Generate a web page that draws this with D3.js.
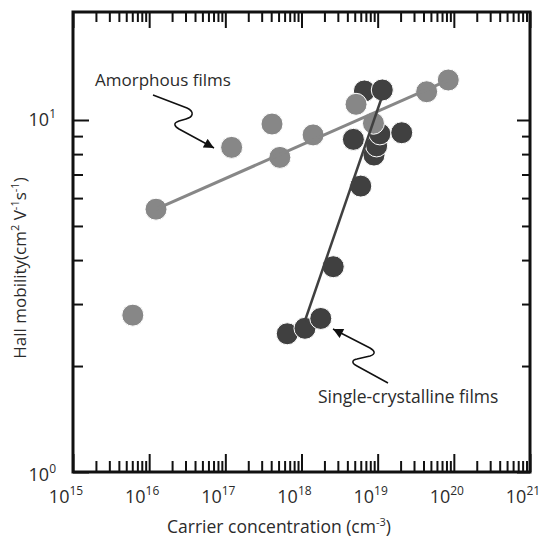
<!DOCTYPE html>
<html>
<head>
<meta charset="utf-8">
<script src="https://cdn.jsdelivr.net/npm/d3@7"></script>
<style>
	body { margin: 0; background: #fff; }
	svg { display: block; }
	text { font-family: "Open Sans", "Noto Sans", sans-serif; fill: #2b2b2b; }
</style>
</head>
<body>
<div id="chart"></div>
<script>
/***********************************************************************/
//Data
/***********************************************************************/
// carrier concentration (cm^-3), hall mobility (cm2 V-1 s-1)
const amorphousConc = [6.1e15, 1.23e16, 1.21e17, 4.1e17, 5.2e17, 1.42e18, 5.2e18, 8.8e18, 4.4e19, 8.45e19]
const amorphousMob  = [2.79, 5.58, 8.36, 9.74, 7.83, 9.07, 11.08, 9.79, 12.03, 12.99]

const crystalConc = [6.5e17, 1.11e18, 1.79e18, 2.61e18, 6.0e18, 8.95e18, 9.7e18, 1.07e19, 4.8e18, 2.07e19, 6.7e18, 1.15e19]
const crystalMob  = [2.47, 2.56, 2.73, 3.83, 6.49, 7.95, 8.44, 9.13, 8.81, 9.20, 12.09, 12.17]

// end points of the two fitted lines
const amorphousFit = [[1.23e16, 5.58], [8.45e19, 12.99]]
const crystalFit   = [[1.11e18, 2.69], [1.21e19, 12.09]]

const xDecades = [15, 16, 17, 18, 19, 20, 21]
const yDecades = [0, 1]

/***********************************************************************/
//Plot Area
/***********************************************************************/
const width = 541
const height = 541
const margin = { left : 73, right : 11, top : 12, bottom : 69 }

const plotW = width - margin.left - margin.right
const plotH = height - margin.top - margin.bottom

const svg = d3.select('#chart')
	.append('svg')
	.attr('width', width)
	.attr('height', height)

const g = svg.append('g')
	.attr('transform', 'translate(' + margin.left + ',' + margin.top + ')')

/***********************************************************************/
//Scale
/***********************************************************************/
const xScale = d3.scaleLog()
	.domain([1e15, 1e21])
	.range([0, plotW])

const yScale = d3.scaleLog()
	.domain([1, Math.pow(10, 1.3068)])
	.range([plotH, 0])

/***********************************************************************/
//Axes
/***********************************************************************/
const xMajor = xDecades.map(d => Math.pow(10, d))
const xMinor = []
xDecades.slice(0, -1).forEach(d => {
	for (let k = 2; k <= 9; k++) xMinor.push(k * Math.pow(10, d))
})
const yMajor = yDecades.map(d => Math.pow(10, d))
const yMinor = [2, 3, 4, 5, 6, 7, 8, 9]

const addAxis = (axis, transform) => {
	const a = g.append('g')
		.attr('transform', transform)
		.call(axis)
	a.select('.domain').remove()
	a.selectAll('.tick line').attr('stroke', '#111').attr('stroke-width', 2)
	a.selectAll('.tick text').remove()
}

addAxis(d3.axisBottom(xScale).tickValues(xMajor).tickSizeInner(-18).tickSizeOuter(0), 'translate(0,' + plotH + ')')
addAxis(d3.axisBottom(xScale).tickValues(xMinor).tickSizeInner(-11).tickSizeOuter(0), 'translate(0,' + plotH + ')')
addAxis(d3.axisTop(xScale).tickValues(xMajor).tickSizeInner(-16).tickSizeOuter(0), 'translate(0,0)')
addAxis(d3.axisTop(xScale).tickValues(xMinor).tickSizeInner(-10).tickSizeOuter(0), 'translate(0,0)')
addAxis(d3.axisLeft(yScale).tickValues(yMajor).tickSizeInner(-16).tickSizeOuter(0), 'translate(0,0)')
addAxis(d3.axisLeft(yScale).tickValues(yMinor).tickSizeInner(-10).tickSizeOuter(0), 'translate(0,0)')
addAxis(d3.axisRight(yScale).tickValues(yMajor).tickSizeInner(-13).tickSizeOuter(0), 'translate(' + plotW + ',0)')
addAxis(d3.axisRight(yScale).tickValues(yMinor).tickSizeInner(-8).tickSizeOuter(0), 'translate(' + plotW + ',0)')

// frame
g.append('rect')
	.attr('x', 0)
	.attr('y', 0)
	.attr('width', plotW)
	.attr('height', plotH)
	.attr('fill', 'none')
	.attr('stroke', '#111')
	.attr('stroke-width', 3)

// power-of-ten labels
const powLabel = (sel, exp) => {
	sel.append('tspan').text('10')
	sel.append('tspan')
		.attr('font-size', '12px')
		.attr('dy', '-8')
		.text(exp)
}

g.append('g').selectAll('text')
	.data(xDecades)
	.join('text')
	.attr('x', d => xScale(Math.pow(10, d)) - 7)
	.attr('y', plotH + 31)
	.attr('text-anchor', 'middle')
	.attr('font-size', '18px')
	.each(function(d) { powLabel(d3.select(this), d) })

g.append('g').selectAll('text')
	.data(yDecades)
	.join('text')
	.attr('x', -17)
	.attr('y', d => yScale(Math.pow(10, d)) + (d === 0 ? 9 : 6))
	.attr('text-anchor', 'end')
	.attr('font-size', '18px')
	.each(function(d) { powLabel(d3.select(this), d) })

// axis titles
const xTitle = svg.append('text')
	.attr('x', 279)
	.attr('y', 533)
	.attr('text-anchor', 'middle')
	.attr('font-size', '17.5px')
xTitle.append('tspan').text('Carrier concentration (cm')
xTitle.append('tspan').attr('font-size', '11px').attr('dy', -7).text('-3')
xTitle.append('tspan').attr('dy', 7).text(')')

const yTitle = svg.append('text')
	.attr('transform', 'translate(26,268) rotate(-90)')
	.attr('text-anchor', 'middle')
	.attr('font-size', '17px')
yTitle.append('tspan').text('Hall mobility(cm')
yTitle.append('tspan').attr('font-size', '11px').attr('dy', -7).text('2')
yTitle.append('tspan').attr('dy', 7).text(' V')
yTitle.append('tspan').attr('font-size', '11px').attr('dy', -7).text('-1')
yTitle.append('tspan').attr('dy', 7).text('s')
yTitle.append('tspan').attr('font-size', '11px').attr('dy', -7).text('-1')
yTitle.append('tspan').attr('dy', 7).text(')')

/***********************************************************************/
//Plotting
/***********************************************************************/
const grey = '#878787'
const dark = '#404040'
const r = 11

const crystal = crystalConc.map((c, i) => ({ c, m : crystalMob[i] }))
const amorphous = amorphousConc.map((c, i) => ({ c, m : amorphousMob[i] }))

g.append('g').selectAll('circle')
	.data(crystal)
	.join('circle')
	.attr('cx', d => xScale(d.c))
	.attr('cy', d => yScale(d.m))
	.attr('r', r)
	.attr('fill', dark)
	.attr('stroke', '#fff')
	.attr('stroke-width', 1)

g.append('g').selectAll('circle')
	.data(amorphous)
	.join('circle')
	.attr('cx', d => xScale(d.c))
	.attr('cy', d => yScale(d.m))
	.attr('r', r)
	.attr('fill', grey)
	.attr('stroke', '#fff')
	.attr('stroke-width', 1)

const line = d3.line()
	.x(d => xScale(d[0]))
	.y(d => yScale(d[1]))

g.append('path')
	.datum(amorphousFit)
	.attr('d', line)
	.attr('fill', 'none')
	.attr('stroke', grey)
	.attr('stroke-width', 3)

g.append('path')
	.datum(crystalFit)
	.attr('d', line)
	.attr('fill', 'none')
	.attr('stroke', dark)
	.attr('stroke-width', 2.5)

/***********************************************************************/
//Annotations
/***********************************************************************/
svg.append('defs').append('marker')
	.attr('id', 'arrow')
	.attr('viewBox', '0 0 10 10')
	.attr('refX', 10)
	.attr('refY', 5)
	.attr('markerWidth', 12)
	.attr('markerHeight', 10)
	.attr('markerUnits', 'userSpaceOnUse')
	.attr('orient', 'auto')
	.append('path')
	.attr('d', 'M0,0L10,5L0,10Z')
	.attr('fill', '#111')

svg.append('text')
	.attr('x', 95)
	.attr('y', 86)
	.attr('font-size', '17px')
	.text('Amorphous films')

svg.append('path')
	.attr('d', 'M153,95 L187,108 C195,112 193,117 186,119 L179,121 C173,123 174,126 179,129 L214,148')
	.attr('fill', 'none')
	.attr('stroke', '#111')
	.attr('stroke-width', 1.5)
	.attr('marker-end', 'url(#arrow)')

svg.append('text')
	.attr('x', 318)
	.attr('y', 403)
	.attr('font-size', '17.5px')
	.text('Single-crystalline films')

svg.append('path')
	.attr('d', 'M388,383 L357,366 C351,363 352,360 357,359 L370,356 C376,354 375,351 370,348 L333,329')
	.attr('fill', 'none')
	.attr('stroke', '#111')
	.attr('stroke-width', 1.5)
	.attr('marker-end', 'url(#arrow)')
</script>
</body>
</html>
